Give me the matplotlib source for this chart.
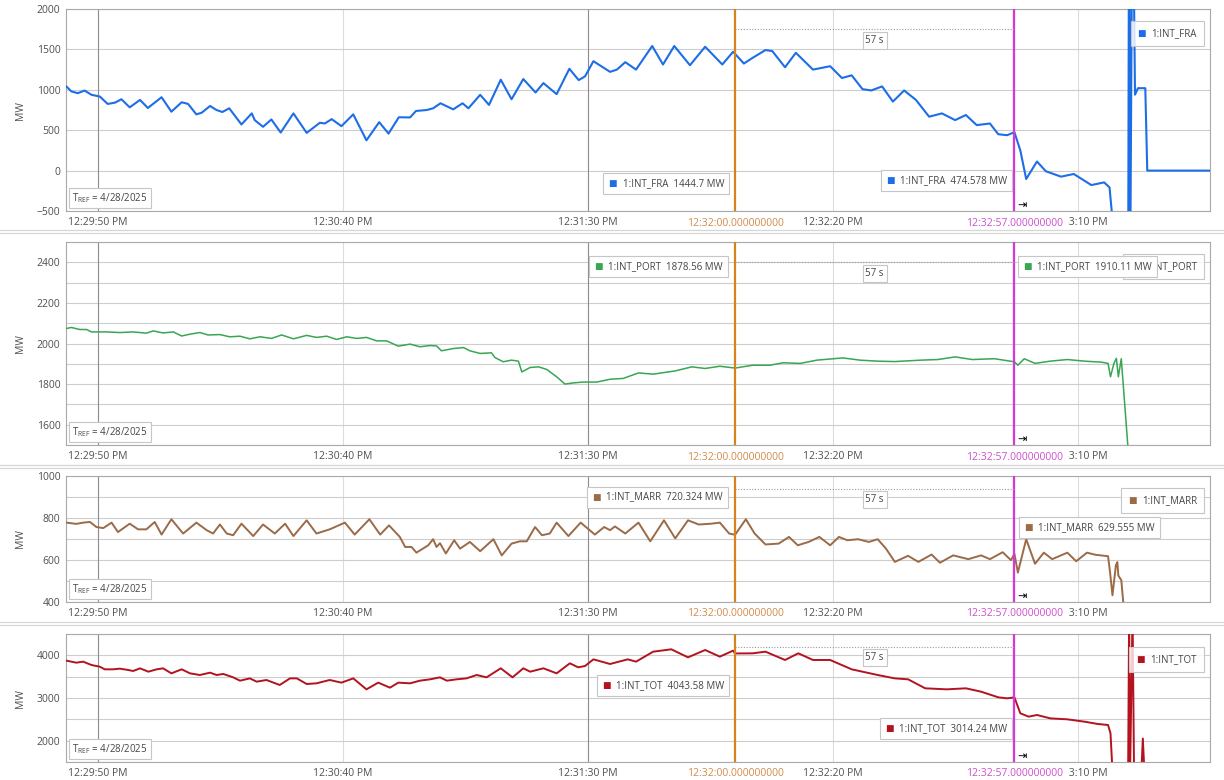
"""Four stacked interconnection-flow traces (MW) around the 12:32:57 event, with two time cursors."""
from datetime import datetime, timedelta

import matplotlib

matplotlib.use("Agg")
import matplotlib.pyplot as plt
from matplotlib.lines import Line2D
from matplotlib.offsetbox import AnnotationBbox, HPacker, TextArea
from matplotlib.ticker import FuncFormatter, MultipleLocator

plt.rcParams["font.family"] = ["Open Sans", "DejaVu Sans"]
plt.rcParams["mathtext.fontset"] = "custom"
plt.rcParams["mathtext.rm"] = "Open Sans"

# time axis: seconds counted from 12:29:50 PM on the reference day
T0 = datetime(2025, 4, 28, 12, 29, 50)
T_VIEW = (-6.5, 226.9)
CURSOR_A = 130.0   # 12:32:00
CURSOR_B = 187.0   # 12:32:57

FRA_T = [-6.4, -5.4, -4.1, -2.7, -1.3, 0.4, 2.0, 3.5, 4.8, 6.5,
         8.6, 10.2, 13.0, 15.0, 17.1, 18.4, 20.1, 21.2, 22.9, 24.2,
         25.4, 26.8, 29.3, 31.4, 32.0, 33.7, 35.4, 37.3, 39.9, 42.6,
         45.3, 46.3, 47.7, 49.7, 52.1, 54.8, 57.4, 59.3, 61.4, 63.7,
         64.9, 67.1, 68.4, 69.9, 72.5, 74.4, 75.6, 78.0, 79.8, 82.2,
         84.4, 86.8, 89.3, 90.9, 93.6, 96.2, 98.1, 99.4, 101.1, 104.5,
         105.9, 107.6, 109.8, 113.1, 115.3, 117.6, 120.8, 123.9, 127.4, 129.6,
         130.0, 131.8, 133.6, 136.2, 137.6, 140.2, 142.4, 145.9, 149.4, 151.8,
         153.8, 156.0, 157.8, 160.0, 162.2, 164.5, 166.9, 169.6, 172.2, 174.9,
         177.1, 179.3, 182.0, 183.7, 185.5, 187.0, 188.2, 189.4, 191.6, 193.4,
         196.5, 199.1, 202.7, 205.3, 206.4, 207.0, 207.3, 210.2, 210.4, 210.6,
         211.1, 211.6, 212.2, 213.7, 214.1, 226.9]
FRA_MW = [1040, 980, 958, 991, 938, 917, 825, 841, 883, 783,
          875, 775, 908, 729, 846, 825, 696, 717, 800, 750,
          725, 771, 571, 708, 625, 542, 633, 471, 708, 467,
          592, 583, 637, 550, 696, 375, 600, 458, 660, 658,
          738, 750, 771, 833, 758, 833, 771, 938, 813, 1125,
          883, 1133, 967, 1083, 946, 1260, 1120, 1167, 1354, 1222,
          1250, 1342, 1250, 1542, 1313, 1542, 1304, 1533, 1313, 1470,
          1445, 1325, 1396, 1492, 1479, 1279, 1458, 1250, 1292, 1146,
          1179, 1008, 992, 1042, 854, 992, 875, 667, 708, 625,
          688, 563, 583, 450, 438, 475, 250, -104, 113, -8,
          -75, -42, -179, -146, -208, -600, -1500, -1500, 4000, -1500,
          4000, 940, 1020, 1020, 0, 0]

PORT_T = [-6.4, -5.4, -3.7, -2.3, -1.3, 0.1, 1.8, 4.5, 7.2, 9.9,
          11.3, 13.3, 15.4, 17.1, 18.8, 20.8, 22.5, 24.9, 26.9, 29.0,
          31.0, 33.1, 35.4, 37.5, 39.9, 42.6, 44.6, 46.7, 48.7, 50.8,
          52.8, 54.8, 56.9, 58.9, 61.3, 63.7, 65.7, 67.8, 69.1, 70.1,
          72.5, 74.6, 75.9, 78.0, 80.3, 81.0, 82.7, 84.4, 85.8, 86.5,
          88.2, 89.9, 91.6, 93.6, 95.3, 97.0, 99.0, 101.8, 104.5, 107.2,
          110.3, 113.3, 117.8, 121.2, 123.9, 126.9, 130.0, 133.6, 137.1, 139.8,
          143.3, 146.7, 152.0, 155.5, 159.1, 162.6, 167.9, 171.4, 174.9, 178.4,
          182.9, 187.0, 187.7, 189.0, 191.2, 194.3, 197.8, 201.3, 204.8, 206.1,
          206.6, 207.3, 207.8, 208.2, 208.8, 210.1, 210.6]
PORT_MW = [2074, 2079, 2069, 2069, 2057, 2057, 2057, 2054, 2057, 2051,
           2062, 2052, 2057, 2037, 2046, 2054, 2042, 2044, 2033, 2036,
           2023, 2033, 2025, 2042, 2023, 2040, 2030, 2036, 2020, 2033,
           2025, 2030, 2013, 2013, 1987, 1997, 1984, 1990, 1988, 1964,
           1975, 1980, 1964, 1951, 1954, 1931, 1910, 1918, 1913, 1860,
           1882, 1885, 1872, 1836, 1800, 1806, 1810, 1810, 1824, 1828,
           1855, 1849, 1865, 1885, 1877, 1888, 1879, 1893, 1893, 1905,
           1902, 1918, 1929, 1918, 1913, 1911, 1918, 1921, 1934, 1921,
           1925, 1910, 1893, 1925, 1902, 1913, 1921, 1913, 1908, 1902,
           1836, 1902, 1927, 1836, 1925, 1508, 1300]

MARR_T = [-6.4, -4.4, -3.0, -1.6, -0.3, 1.1, 2.8, 4.1, 6.5, 8.2,
          9.9, 11.6, 13.0, 15.0, 17.4, 20.1, 22.2, 23.5, 24.9, 26.3,
          27.6, 29.3, 31.7, 33.7, 36.1, 38.2, 39.9, 42.6, 44.6, 47.3,
          50.4, 52.4, 55.4, 57.6, 59.4, 61.6, 62.7, 64.0, 65.0, 67.4,
          68.4, 69.1, 69.8, 71.0, 72.7, 73.9, 75.9, 78.0, 80.7, 82.4,
          84.4, 86.1, 87.5, 89.2, 90.6, 92.2, 93.6, 96.0, 98.5, 101.4,
          103.3, 104.5, 105.5, 107.6, 110.3, 112.7, 115.5, 117.8, 120.4, 122.6,
          125.2, 126.9, 128.8, 130.0, 132.2, 134.0, 136.2, 138.9, 141.0, 142.8,
          145.0, 147.2, 149.4, 151.2, 152.9, 155.1, 157.3, 159.1, 160.8, 162.6,
          165.3, 167.4, 170.1, 171.8, 174.5, 177.6, 180.2, 182.0, 184.6, 186.3,
          187.0, 187.7, 189.4, 191.2, 193.0, 194.7, 197.8, 199.6, 201.8, 203.5,
          206.1, 206.5, 207.0, 207.7, 208.0, 208.2, 208.8, 209.2, 209.6]
MARR_MW = [778, 772, 778, 781, 757, 752, 778, 733, 773, 746,
           746, 781, 721, 794, 726, 778, 742, 726, 769, 726,
           718, 773, 714, 769, 726, 773, 714, 789, 726, 746,
           778, 721, 794, 721, 765, 710, 662, 662, 635, 670,
           699, 662, 680, 631, 694, 654, 686, 642, 699, 622,
           678, 689, 689, 757, 718, 726, 778, 714, 778, 721,
           757, 742, 760, 726, 778, 689, 789, 703, 789, 769,
           773, 778, 726, 720, 794, 726, 674, 678, 710, 670,
           686, 710, 670, 710, 694, 699, 686, 699, 654, 591,
           620, 591, 626, 587, 622, 604, 622, 604, 637, 599,
           630, 540, 699, 582, 635, 604, 635, 594, 635, 625,
           618, 543, 432, 575, 590, 526, 504, 400, 300]

TOT_T = [-6.4, -4.4, -3.0, -1.3, 0.4, 1.4, 3.1, 4.5, 6.2, 7.2,
         8.6, 10.3, 12.0, 13.3, 15.0, 17.1, 18.8, 20.8, 22.9, 24.2,
         25.6, 27.6, 29.0, 31.0, 32.4, 34.4, 37.1, 39.2, 40.6, 42.6,
         44.6, 47.3, 49.7, 52.1, 54.8, 57.2, 59.6, 61.3, 63.7, 65.7,
         67.8, 69.8, 71.2, 73.2, 75.2, 77.3, 79.3, 82.2, 84.6, 86.8,
         88.2, 90.9, 93.6, 96.3, 98.0, 99.4, 101.1, 104.5, 108.1, 109.8,
         113.3, 117.0, 120.4, 123.9, 126.9, 129.6, 130.0, 133.6, 136.2, 140.2,
         142.9, 145.9, 149.4, 153.8, 159.1, 162.6, 165.3, 168.8, 173.2, 177.1,
         180.2, 183.7, 185.5, 187.0, 188.2, 189.9, 191.6, 194.3, 197.8, 201.3,
         204.0, 206.1, 206.6, 207.0, 210.2, 210.4, 210.6, 211.1, 211.4, 212.9,
         213.2, 213.5, 226.9]
TOT_MW = [3875, 3828, 3852, 3773, 3734, 3672, 3672, 3688, 3656, 3633,
          3695, 3617, 3672, 3695, 3578, 3672, 3578, 3539, 3594, 3539,
          3563, 3484, 3406, 3460, 3383, 3422, 3305, 3460, 3460, 3328,
          3344, 3422, 3360, 3460, 3203, 3360, 3242, 3360, 3344, 3406,
          3438, 3484, 3406, 3438, 3460, 3539, 3484, 3696, 3484, 3696,
          3617, 3696, 3578, 3813, 3719, 3750, 3906, 3797, 3906, 3852,
          4086, 4141, 3953, 4125, 3969, 4110, 4044, 4047, 4086, 3891,
          4047, 3891, 3891, 3672, 3539, 3460, 3438, 3227, 3203, 3227,
          3148, 3016, 2992, 3014, 2641, 2563, 2602, 2523, 2500, 2445,
          2391, 2367, 2172, 1300, 1300, 5000, 1300, 5000, 1300, 1300,
          2050, 1300, 1300]

SIGNALS = ["INT_FRA", "INT_PORT", "INT_MARR", "INT_TOT"]
AT_CURSOR_A = [1444.7, 1878.56, 720.324, 4043.58]
AT_CURSOR_B = [474.578, 1910.11, 629.555, 3014.24]

ORANGE, ORANGE_TXT = "#d8821c", "#d08a4c"
MAGENTA, MAGENTA_TXT = "#d936d9", "#cc4fcd"
TEXT = "#454545"
W, H = 1224, 780
LEFT, RIGHT = 66, 1210

# per panel: pixel top/bottom, y range, label step, grid step, colour, line width,
# (dx px, y frac) of the two cursor read-outs and y frac of the legend tag
PANELS = [
    dict(t=FRA_T, mw=FRA_MW, top=9, bottom=211, ylim=(-500, 2000), major=500, minor=500,
         colour="#1d6ee6", lw=1.5, tag_a=(-6, 0.134), tag_b=(-2, 0.149), legend_y=0.879),
    dict(t=PORT_T, mw=PORT_MW, top=242, bottom=445, ylim=(1500, 2500), major=200, minor=100,
         colour="#38a653", lw=1.1, tag_a=(-7, 0.877), tag_b=(4, 0.877), legend_y=0.877),
    dict(t=MARR_T, mw=MARR_MW, top=476, bottom=602, ylim=(400, 1000), major=200, minor=100,
         colour="#9b6a47", lw=1.4, tag_a=(-7, 0.833), tag_b=(5, 0.593), legend_y=0.807),
    dict(t=TOT_T, mw=TOT_MW, top=634, bottom=762, ylim=(1500, 4500), major=1000, minor=500,
         colour="#b3121f", lw=1.4, tag_a=(-6, 0.60), tag_b=(-2, 0.26), legend_y=0.80),
]


def clock(t, _pos=None):
    return (T0 + timedelta(seconds=t)).strftime("%I:%M:%S %p")


def tag(ax, text, colour, xy, xycoords, edge_dx, pad_px=5, z=6, alpha=1.0):
    """Framed read-out '■ text'; edge_dx is where the frame edge sits, in px from xy."""
    box = HPacker(children=[
        TextArea("■", textprops=dict(color=colour, fontsize=6.5, family="DejaVu Sans")),
        TextArea(text, textprops=dict(color=TEXT, fontsize=7)),
    ], align="center", pad=0, sep=4)
    side = 1 if edge_dx < 0 else 0
    dx = edge_dx - pad_px if side else edge_dx + pad_px
    ab = AnnotationBbox(
        box, xy, xycoords=xycoords, xybox=(dx, 0), boxcoords="offset pixels",
        box_alignment=(side, 0.5), frameon=True, fontsize=7, pad=pad_px / (7 * 100 / 72),
        bboxprops=dict(facecolor=(1, 1, 1, alpha), edgecolor="#c6c6c6", linewidth=0.8),
        annotation_clip=False, zorder=z,
    )
    ax.add_artist(ab)


fig = plt.figure(figsize=(W / 100, H / 100), dpi=100)

for p, name, va, vb in zip(PANELS, SIGNALS, AT_CURSOR_A, AT_CURSOR_B):
    ax = fig.add_axes([LEFT / W, 1 - p["bottom"] / H, (RIGHT - LEFT) / W,
                       (p["bottom"] - p["top"]) / H])
    ax.plot(p["t"], p["mw"], color=p["colour"], lw=p["lw"], zorder=3,
            solid_joinstyle="round")
    ax.set_xlim(*T_VIEW)
    ax.set_ylim(*p["ylim"])

    ax.xaxis.set_major_locator(MultipleLocator(50))
    ax.xaxis.set_major_formatter(FuncFormatter(clock))
    ax.yaxis.set_major_locator(MultipleLocator(p["major"]))
    ax.yaxis.set_minor_locator(MultipleLocator(p["minor"]))
    ax.grid(axis="y", which="both", color="#cdcdcd", lw=0.8)
    ax.grid(axis="x", which="major", color="#dcdcdc", lw=0.8)
    for t in (0, 100):
        ax.axvline(t, color="#8e8e8e", lw=0.8, zorder=1.6)
    ax.tick_params(which="both", length=0, labelsize=7.5, labelcolor="#505050", pad=4)
    for sp in ax.spines.values():
        sp.set_color("#a9a9a9")
        sp.set_linewidth(0.8)
    ax.set_ylabel("MW", fontsize=7.5, color="#505050")
    ax.yaxis.set_label_coords((26 - LEFT) / (RIGHT - LEFT), 0.5)

    blend = ax.get_xaxis_transform()
    ax.axvline(CURSOR_A, color=ORANGE, lw=1.6, zorder=4)
    ax.axvline(CURSOR_B, color=MAGENTA, lw=1.6, zorder=4)
    ax.plot([CURSOR_A, CURSOR_B], [0.9, 0.9], transform=blend, color="#9a9a9a",
            lw=0.8, ls=(0, (1, 1.5)), zorder=4)
    ax.annotate(f"{CURSOR_B - CURSOR_A:.0f} s", xy=((CURSOR_A + CURSOR_B) / 2, 0.9),
                xycoords=blend, xytext=(0, -11), textcoords="offset pixels",
                ha="center", va="center", fontsize=7, color=TEXT, zorder=6,
                bbox=dict(boxstyle="square,pad=0.3", fc="white", ec="#c6c6c6", lw=0.8))
    ax.annotate(r"T$_{\mathrm{REF}}$ = 4/28/2025", xy=(0, 0), xycoords="axes fraction",
                xytext=(6, 6), textcoords="offset pixels", ha="left", va="bottom",
                fontsize=7, color=TEXT, zorder=6,
                bbox=dict(boxstyle="square,pad=0.35", fc="white", ec="#c6c6c6", lw=0.8))
    ax.annotate("⇥", xy=(CURSOR_B, 0), xycoords=blend, xytext=(8, 6),
                textcoords="offset pixels", ha="center", va="center", fontsize=8,
                color="black", family="DejaVu Sans", zorder=6)

    # cursor time stamps under the axis, drawn over the regular tick labels
    for cur, col in ((CURSOR_A, ORANGE_TXT), (CURSOR_B, MAGENTA_TXT)):
        stamp = (T0 + timedelta(seconds=cur)).strftime("%I:%M:%S") + ".000000000"
        ax.annotate(stamp, xy=(cur, 0), xycoords=blend, xytext=(0, -12),
                    textcoords="offset pixels", ha="center", va="center", fontsize=7.5,
                    color=col, annotation_clip=False, zorder=7,
                    bbox=dict(boxstyle="square,pad=0.45", fc="white", ec="none"))

    tag(ax, f"1:{name}", p["colour"], (1, p["legend_y"]), "axes fraction", -6,
        pad_px=7, z=5, alpha=0.8)
    tag(ax, f"1:{name}  {va:g} MW", p["colour"], (CURSOR_A, p["tag_a"][1]), blend,
        p["tag_a"][0])
    tag(ax, f"1:{name}  {vb:g} MW", p["colour"], (CURSOR_B, p["tag_b"][1]), blend,
        p["tag_b"][0])

for y in (229.5, 232.5, 464.5, 467.5, 621.5, 624.5):
    fig.add_artist(Line2D([0, 1], [1 - y / H] * 2, transform=fig.transFigure,
                          color="#d6d6d6", lw=0.9))

fig.savefig("out.png", dpi=100)
